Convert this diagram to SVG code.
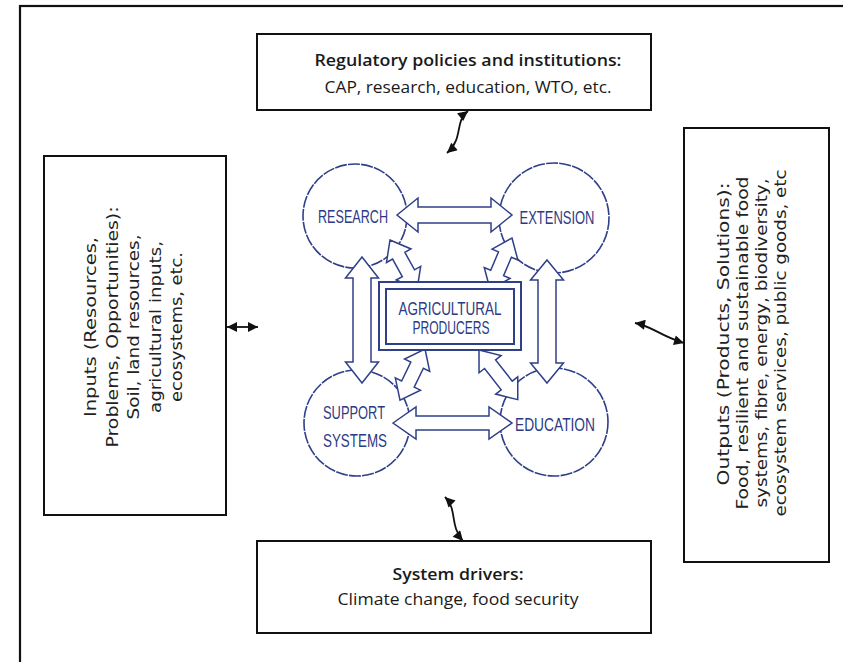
<svg xmlns="http://www.w3.org/2000/svg" width="843" height="662" viewBox="0 0 843 662">
  <style>
    .frame { fill: none; stroke: #111; stroke-width: 2.2; }
    .box { fill: #fff; stroke: #111; stroke-width: 2; }
    .ring { fill: #fff; stroke: #2f3f88; stroke-width: 1.6; stroke-dasharray: 12 1.2; }
    .flow { fill: #fff; stroke: #2f3f88; stroke-width: 1.5; stroke-linejoin: miter; }
    .core { fill: none; stroke: #2f3f88; stroke-width: 2; }
    .lbl { font-family: "Liberation Sans", Arial, sans-serif; font-size: 18px; fill: #2c3a86; text-anchor: middle; }
    .hd { font-family: "Open Sans", "Liberation Sans", sans-serif; font-size: 17px; font-weight: 600; fill: #1a1a1a; text-anchor: middle; }
    .tx { font-family: "Open Sans", "Liberation Sans", sans-serif; font-size: 17px; fill: #1a1a1a; text-anchor: middle; }
    .vt { font-family: "DejaVu Sans", "Liberation Sans", sans-serif; font-size: 16px; fill: #222; text-anchor: middle; }
    .link { fill: none; stroke: #111; stroke-width: 1.8; marker-start: url(#tip); marker-end: url(#tip); }
  </style>
  <defs>
    <marker id="tip" viewBox="0 0 10 10" refX="10" refY="5" markerUnits="userSpaceOnUse" markerWidth="12" markerHeight="10" orient="auto-start-reverse">
      <path d="M0,0 L10,5 L0,10 Z" fill="#111"/>
    </marker>
  </defs>

  <!-- page frame -->
  <rect class="frame" x="20" y="6" width="900" height="700"/>

  <!-- outer context boxes -->
  <g id="policies">
    <rect class="box" x="257" y="34" width="394" height="76"/>
    <text class="hd" x="468" y="66" textLength="307" lengthAdjust="spacingAndGlyphs">Regulatory policies and institutions:</text>
    <text class="tx" x="468" y="93" textLength="287" lengthAdjust="spacingAndGlyphs">CAP, research, education, WTO, etc.</text>
  </g>

  <g id="drivers">
    <rect class="box" x="257" y="541" width="394" height="92"/>
    <text class="hd" x="458" y="580" textLength="131" lengthAdjust="spacingAndGlyphs">System drivers:</text>
    <text class="tx" x="458" y="605" textLength="241" lengthAdjust="spacingAndGlyphs">Climate change, food security</text>
  </g>

  <g id="inputs">
    <rect class="box" x="44" y="156" width="182" height="359"/>
    <g transform="translate(0,327) rotate(-90)">
      <text class="vt" x="0" y="96" textLength="180" lengthAdjust="spacingAndGlyphs">Inputs (Resources,</text>
      <text class="vt" x="0" y="117.5" textLength="241" lengthAdjust="spacingAndGlyphs">Problems, Opportunities):</text>
      <text class="vt" x="0" y="139" textLength="185" lengthAdjust="spacingAndGlyphs">Soil, land resources,</text>
      <text class="vt" x="0" y="160.5" textLength="172" lengthAdjust="spacingAndGlyphs">agricultural inputs,</text>
      <text class="vt" x="0" y="182" textLength="150" lengthAdjust="spacingAndGlyphs">ecosystems, etc.</text>
    </g>
  </g>

  <g id="outputs">
    <rect class="box" x="684" y="128" width="145" height="434"/>
    <g transform="translate(0,343) rotate(-90)">
      <text class="vt" x="9" y="729" textLength="303" lengthAdjust="spacingAndGlyphs">Outputs (Products, Solutions):</text>
      <text class="vt" x="0" y="748" textLength="333" lengthAdjust="spacingAndGlyphs">Food, resilient and sustainable food</text>
      <text class="vt" x="0" y="767" textLength="329" lengthAdjust="spacingAndGlyphs">systems, fibre, energy, biodiversity,</text>
      <text class="vt" x="0" y="786" textLength="347" lengthAdjust="spacingAndGlyphs">ecosystem services, public goods, etc</text>
    </g>
  </g>

  <!-- knowledge system circles -->
  <g id="research">
    <circle class="ring" cx="355" cy="216" r="52"/>
    <text class="lbl" x="353" y="223" textLength="70" lengthAdjust="spacingAndGlyphs">RESEARCH</text>
  </g>
  <g id="extension">
    <circle class="ring" cx="554" cy="218" r="55"/>
    <text class="lbl" x="557" y="224" textLength="75" lengthAdjust="spacingAndGlyphs">EXTENSION</text>
  </g>
  <g id="support">
    <circle class="ring" cx="357" cy="423" r="53"/>
    <text class="lbl" x="354" y="419" textLength="62" lengthAdjust="spacingAndGlyphs">SUPPORT</text>
    <text class="lbl" x="355" y="447" textLength="64" lengthAdjust="spacingAndGlyphs">SYSTEMS</text>
  </g>
  <g id="education">
    <circle class="ring" cx="554" cy="422" r="54"/>
    <text class="lbl" x="555" y="431" textLength="80" lengthAdjust="spacingAndGlyphs">EDUCATION</text>
  </g>

  <!-- hollow two-way flows between the circles and the producers -->
  <g id="flows">
    <path class="flow" transform="translate(397,215)" d="M0,0 L21,-17 L21,-8 L94,-8 L94,-17 L115,0 L94,17 L94,8 L21,8 L21,17 Z"/>
    <path class="flow" transform="translate(393,423)" d="M0,0 L23,-16 L23,-7 L96,-7 L96,-16 L119,0 L96,16 L96,7 L23,7 L23,16 Z"/>
    <path class="flow" transform="translate(362,257) rotate(90)" d="M0,0 L21,-16.5 L21,-9 L105,-9 L105,-16.5 L126,0 L105,16.5 L105,9 L21,9 L21,16.5 Z"/>
    <path class="flow" transform="translate(547,260) rotate(90)" d="M0,0 L20,-16.5 L20,-9 L103,-9 L103,-16.5 L123,0 L103,16.5 L103,9 L20,9 L20,16.5 Z"/>
    <path class="flow" transform="translate(390,240) rotate(61)" d="M0,0 L18,-14 L18,-7 L38,-7 L38,-14 L56,0 L38,14 L38,7 L18,7 L18,14 Z"/>
    <path class="flow" transform="translate(512,238) rotate(113)" d="M0,0 L18,-14 L18,-7 L38,-7 L38,-14 L56,0 L38,14 L38,7 L18,7 L18,14 Z"/>
    <path class="flow" transform="translate(425,349) rotate(116)" d="M0,0 L18,-14 L18,-7 L39,-7 L39,-14 L57,0 L39,14 L39,7 L18,7 L18,14 Z"/>
    <path class="flow" transform="translate(479,350) rotate(52)" d="M0,0 L18,-14 L18,-7 L45,-7 L45,-14 L63,0 L45,14 L45,7 L18,7 L18,14 Z"/>
  </g>

  <!-- producers at the core -->
  <g id="producers">
    <rect x="379" y="282" width="142" height="68" fill="#fff" stroke="#2f3f88" stroke-width="2"/>
    <rect class="core" x="386" y="289" width="128" height="55"/>
    <text class="lbl" x="450" y="315" textLength="103" lengthAdjust="spacingAndGlyphs">AGRICULTURAL</text>
    <text class="lbl" x="451" y="334" textLength="77" lengthAdjust="spacingAndGlyphs">PRODUCERS</text>
  </g>

  <!-- links to the surrounding context -->
  <g id="connectors">
    <path class="link" d="M468,111 C454,122 464,138 447,153"/>
    <path class="link" d="M227,327 L258,327"/>
    <path class="link" d="M635,323 C652,326 660,336 684,343"/>
    <path class="link" d="M445,497 C458,510 449,525 463,541"/>
  </g>
</svg>
